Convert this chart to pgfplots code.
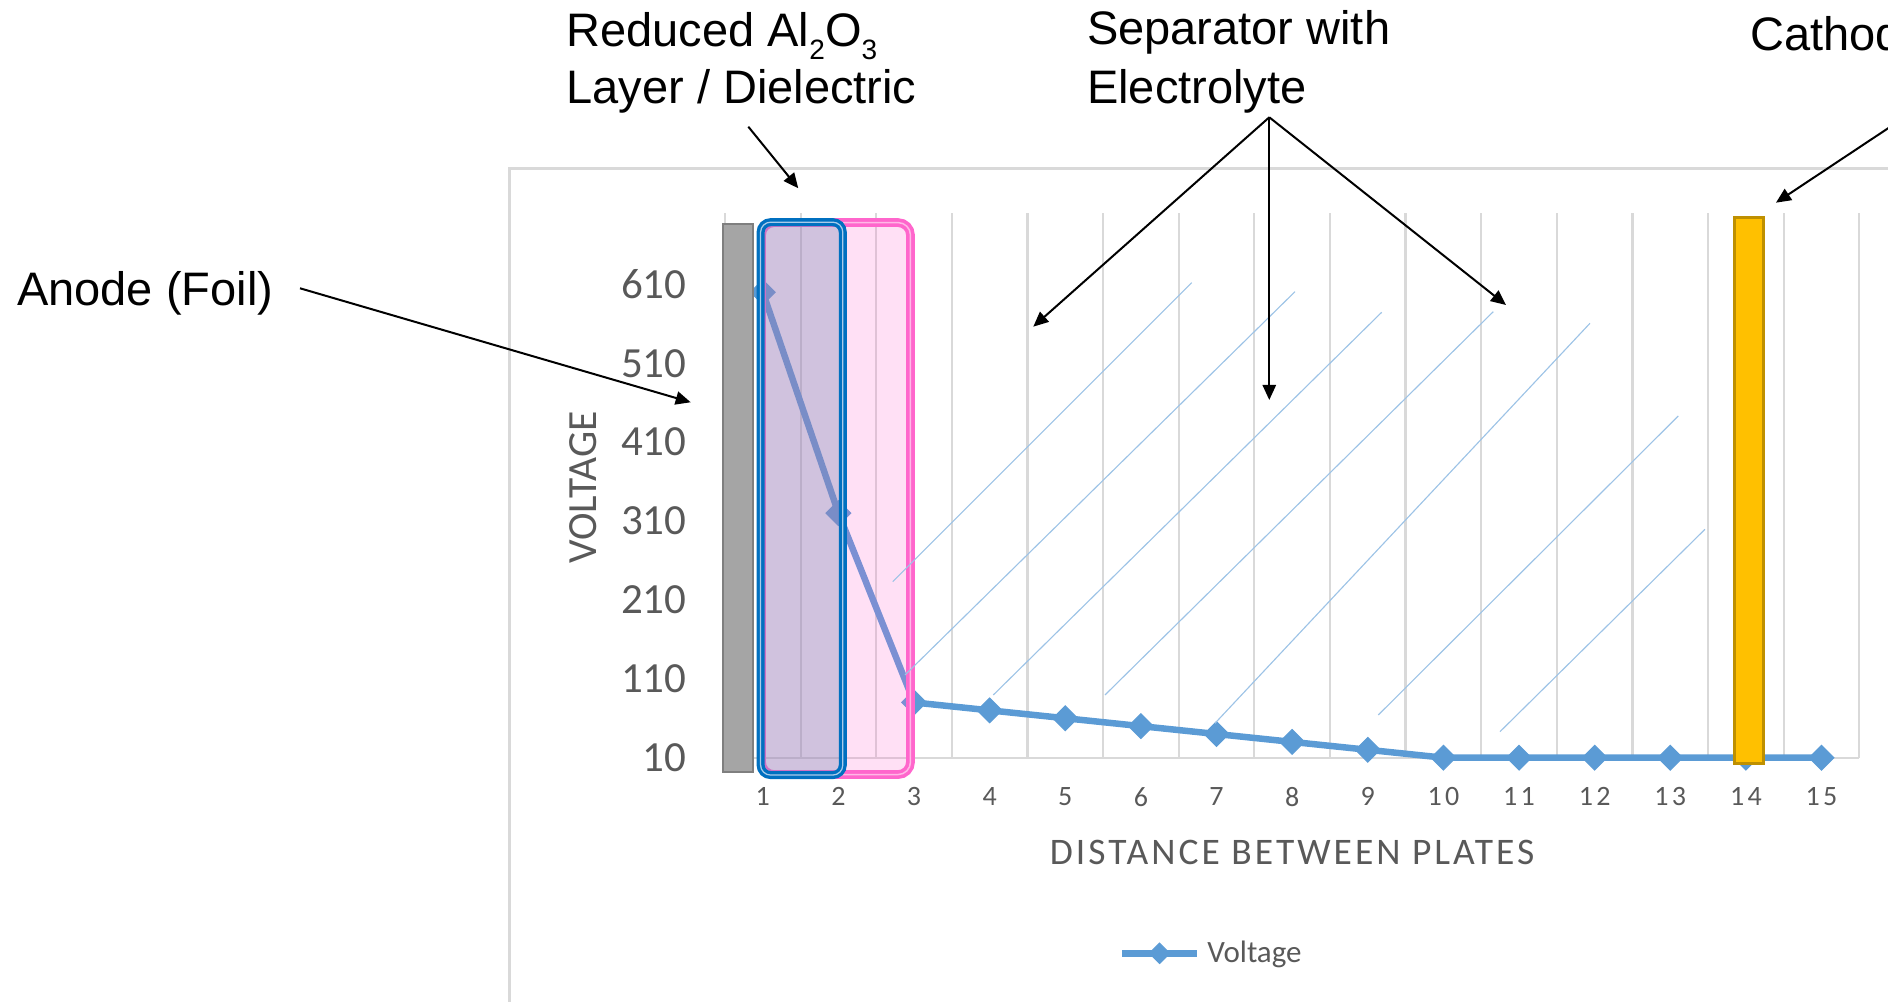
\documentclass[border=0pt]{standalone}
\usepackage{pgfplots}
\pgfplotsset{compat=1.18}
\usepackage{fontspec}
\setmainfont{Liberation Sans}
\newfontfamily\calibri{Carlito}
\usetikzlibrary{arrows.meta}
\definecolor{gridgray}{HTML}{D9D9D9}
\definecolor{txtgray}{HTML}{595959}
\definecolor{serblue}{HTML}{5B9BD5}
\definecolor{hatch}{HTML}{9DC3E6}
\definecolor{pinkline}{HTML}{FF66CC}
\definecolor{pinklight}{HTML}{FFB8E6}
\definecolor{blueline}{HTML}{0070C0}
\definecolor{bluelight}{HTML}{A9CBEA}
\definecolor{anodefill}{HTML}{A5A5A5}
\definecolor{anodeline}{HTML}{7F7F7F}
\definecolor{cathfill}{HTML}{FFC000}
\definecolor{cathline}{HTML}{BF9000}
\definecolor{bluefill}{RGB}{120,138,179}
\newcommand\sub[1]{\raisebox{-5pt}{\fontsize{11.2}{12}\selectfont #1}}
\begin{document}
\begin{tikzpicture}
\path[use as bounding box] (0,0) rectangle (755.2pt,400.8pt);
\begin{axis}[
  at={(290pt,97.72pt)}, anchor=south west,
  scale only axis, width=453.72pt, height=217.76pt,
  xmin=0.5, xmax=15.5, ymin=10, ymax=700,
  clip=false,
  xtick={1,...,15}, ytick={10,110,...,610},
  minor xtick={0.5,1.5,...,15.5},
  xminorgrids, minor grid style={gridgray, line width=0.9pt},
  axis x line*=bottom, axis y line*=left,
  x axis line style={gridgray, line width=0.9pt},
  y axis line style={draw=none},
  major tick length=0pt, minor tick length=0pt,
  /pgf/number format/assume math mode=true,
  yticklabel style={font=\calibri\fontsize{17.2}{18}\selectfont, text=txtgray, anchor=east, inner sep=0pt, xshift=-15.2pt},
  xticklabel style={font=\calibri\fontsize{11.2}{12}\selectfont\addfontfeature{LetterSpace=12}, text=txtgray, anchor=center, inner sep=0pt, yshift=-15.6pt},
  xlabel={DISTANCE BETWEEN PLATES},
  ylabel={VOLTAGE},
  every axis x label/.style={at={(axis description cs:0.5,-0.1971)}, anchor=base, font=\calibri\fontsize{15}{16}\selectfont\addfontfeature{LetterSpace=8}, text=txtgray},
  every axis y label/.style={at={(axis description cs:-0.1249,0.4963)}, rotate=90, anchor=center, font=\calibri\fontsize{16.6}{18}\selectfont, text=txtgray},
  legend style={at={(axis description cs:0.3467,-0.3593)}, anchor=west, draw=none, fill=none, inner sep=0pt, nodes={inner sep=0pt}, font=\calibri\fontsize{12.4}{14}\selectfont, text=txtgray},
  legend image code/.code={\draw[#1, mark repeat=2, mark phase=2, mark size=2.9pt] plot coordinates {(0pt,0pt) (15pt,0pt) (30pt,0pt)};},
]
\addplot[serblue, line width=2.6pt, mark=square*, mark size=3.5pt, mark options={rotate=45, solid, line width=0.4pt}] coordinates {
 (1,600) (2,320) (3,80) (4,70) (5,60) (6,50) (7,40) (8,30) (9,20) (10,10) (11,10) (12,10) (13,10) (14,10) (15,10)};
\addlegendentry{\hspace{2.8pt}Voltage}
\end{axis}
\begin{scope}[shift={(0pt,400.8pt)}, x=0.4pt, y=-0.4pt]
 % chart border
 \draw[gridgray, line width=1pt] (509.3,1010) -- (509.3,168.3) -- (1900,168.3);
 % pink region
 \draw[pinkline, line width=1.45pt, double=pinklight, double distance=0.6pt, rounded corners=5pt, fill=pinkline, fill opacity=0.2] (761.5,222.6) rectangle (910.5,774.6);
 % blue region
 \draw[blueline, line width=1.35pt, double=bluelight, double distance=0.5pt, rounded corners=4pt, fill=bluefill, fill opacity=0.35] (760.6,222.2) rectangle (842.8,775.1);
 % hatch lines
 \draw[hatch, line width=0.45pt] (892.7,581.7)--(1191.7,282.7) (905,675)--(1295,291.7) (993.3,695)--(1381.7,312.3) (1105,695)--(1493.3,311.7) (1215,723.3)--(1590,323.3) (1378.3,715)--(1678.3,416) (1500,731.7)--(1705,529.3);
 % anode
 \draw[anodeline, line width=0.8pt, fill=anodefill] (723.3,224.3) rectangle (752.7,772);
 % cathode
 \draw[cathline, line width=1.1pt, fill=cathfill] (1734.7,217.7) rectangle (1763.6,763.6);
 % arrows
 \begin{scope}[black, line width=0.8pt, -{Triangle[length=6pt,width=5.3pt]}]
  \draw (300,288.3) -- (690.7,402.3);
  \draw (748.3,126.7) -- (798.3,188.3);
  \draw (1269.3,117.3) -- (1033.3,326.7);
  \draw (1269.3,117.3) -- (1269.3,400);
  \draw (1269.3,117.3) -- (1506,305);
  \draw (1950,87.2) -- (1776,202.7);
 \end{scope}
 % texts
 \begin{scope}[every node/.style={anchor=base west, inner sep=0pt, font=\fontsize{18.8}{22.7}\selectfont}]
  \node at (566,46.7) {Reduced Al\sub{2}O\sub{3}};
  \node at (566,103.3) {Layer / Dielectric};
  \node at (1086.7,45) {Separator with};
  \node at (1086.7,104) {Electrolyte};
  \node at (1750,50.7) {Cathode};
  \node at (16.7,306) {Anode (Foil)};
 \end{scope}
\end{scope}
\end{tikzpicture}
\end{document}
